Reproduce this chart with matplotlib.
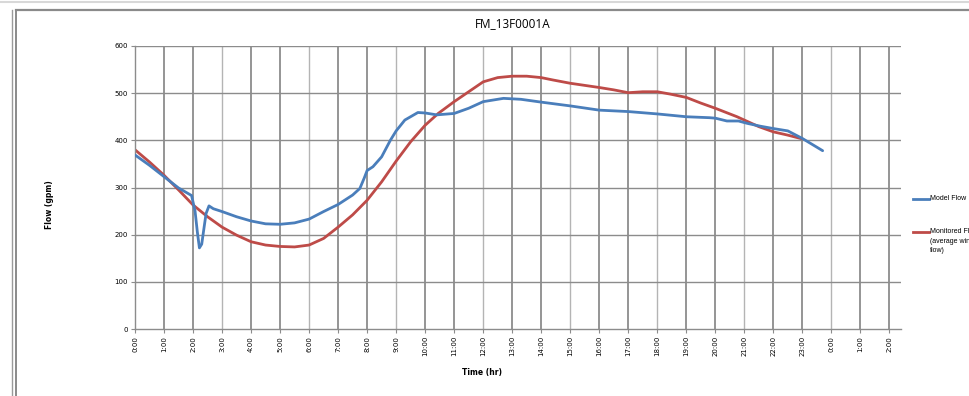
import matplotlib
matplotlib.use("Agg")
import matplotlib.pyplot as plt
from matplotlib.lines import Line2D

# Model flow (gpm) vs. time of day (hours)
model_hours = [0, 0.5, 1.0, 1.5, 1.95, 2.07, 2.15, 2.22, 2.3, 2.38, 2.45, 2.55, 2.7,
               3.0, 3.5, 4.0, 4.5, 5.0, 5.5, 6.0, 6.5, 7.0, 7.5, 7.75, 7.9, 8.0,
               8.2, 8.5, 8.8, 9.0, 9.3, 9.75, 10.0, 10.4, 11.0, 11.5, 12.0, 12.7,
               13.3, 14.0, 15.0, 16.0, 17.0, 18.0, 19.0, 19.8, 20.0, 20.4, 20.8,
               21.1, 21.55, 22.0, 22.5, 23.0, 23.7]
model_flow = [369, 347, 323, 299, 283, 250, 205, 172, 180, 215, 245, 261, 255,
              249, 238, 229, 223, 222, 225, 233, 249, 264, 284, 298, 320, 336,
              344, 365, 400, 420, 443, 459, 458, 454, 457, 468, 482, 489,
              487, 481, 473, 464, 461, 456, 450, 448, 447, 441, 441,
              436, 430, 425, 420, 404, 378]

# Monitored flow (gpm)
monitored_hours = [0, 0.5, 1, 1.5, 2, 2.5, 3, 3.5, 4, 4.5, 5, 5.5, 6, 6.5, 7, 7.5,
                   8, 8.5, 9, 9.5, 10, 10.45, 11, 11.5, 12, 12.5, 13, 13.5, 14,
                   14.4, 15, 16, 16.5, 17, 17.5, 18, 18.45, 19, 19.5, 20, 20.75,
                   21.5, 22, 22.5, 23]
monitored_flow = [380, 354, 326, 295, 263, 238, 216, 199, 185, 178, 175, 174, 178,
                  192, 216, 242, 273, 312, 356, 397, 432, 457, 482, 503, 524, 533,
                  536, 536, 533, 528, 521, 512, 507, 501, 503, 503, 498, 491, 479,
                  468, 450, 429, 418, 411, 403]

tick_hours = list(range(0, 27))
tick_labels = ["%d:00" % (h % 24) for h in tick_hours]
flow_ticks = [0, 100, 200, 300, 400, 500, 600]

blue = "#4A7EBB"
red = "#BE4B48"
grid_dark = "#8C8C8C"
grid_light = "#B4B4B4"

W, H = 970, 396
fig = plt.figure(figsize=(W / 100, H / 100), dpi=100)
fig.patch.set_facecolor("white")

# Chart frame
fig.add_artist(Line2D([0, 1], [1 - 1.5 / H, 1 - 1.5 / H], color="#D8D8D8", lw=1.5))
fig.add_artist(Line2D([12.5 / W, 12.5 / W], [0, 1 - 10 / H], color="#9A9A9A", lw=1.0))
fig.add_artist(Line2D([16.5 / W, 16.5 / W], [0, 1 - 10 / H], color="#8A8A8A", lw=1.4))
fig.add_artist(Line2D([16.5 / W, 1], [1 - 10 / H, 1 - 10 / H], color="#8A8A8A", lw=1.6))

ax = fig.add_axes([135 / W, 1 - 329 / H, (901 - 135) / W, (329 - 46) / H])
ax.set_xlim(0, 26.4)
ax.set_ylim(0, 600)

# Grid
for h in tick_hours[1:]:
    ax.axvline(h, color=grid_light if h % 3 == 0 else grid_dark,
               lw=1.3 if h % 3 else 1.0, zorder=1)
for v in flow_ticks[1:]:
    ax.axhline(v, color=grid_dark, lw=1.0, zorder=1)

ax.plot(model_hours, model_flow, color=blue, lw=2.0, zorder=3, solid_capstyle="round")
ax.plot(monitored_hours, monitored_flow, color=red, lw=2.0, zorder=2, solid_capstyle="round")

for s in ["top", "right"]:
    ax.spines[s].set_visible(False)
for s in ["left", "bottom"]:
    ax.spines[s].set_color(grid_dark)
    ax.spines[s].set_linewidth(1.0)

ax.set_xticks(tick_hours)
ax.set_xticklabels(tick_labels, rotation=90, fontsize=5, family="DejaVu Sans")
ax.set_yticks(flow_ticks)
ax.set_yticklabels([str(v) for v in flow_ticks], fontsize=5, family="DejaVu Sans")
ax.tick_params(axis="both", length=3, width=0.8, color=grid_dark, pad=2)

fig.text(513 / W, 1 - 24 / H, "FM_13F0001A", ha="center", va="center",
         fontsize=8.5, family="Open Sans")
fig.text(482 / W, 1 - 372 / H, "Time (hr)", ha="center", va="center",
         fontsize=5.5, fontweight="bold", family="DejaVu Sans")
fig.text(50 / W, 1 - 205 / H, "Flow (gpm)", ha="center", va="center", rotation=90,
         fontsize=5.5, fontweight="bold", family="DejaVu Sans")

# Legend
fig.add_artist(Line2D([913 / W, 929 / W], [1 - 199 / H, 1 - 199 / H], color=blue, lw=2.0))
fig.text(930 / W, 1 - 199 / H, "Model Flow", ha="left", va="center", fontsize=5,
         family="Liberation Sans")
fig.add_artist(Line2D([913 / W, 929 / W], [1 - 232 / H, 1 - 232 / H], color=red, lw=2.0))
fig.text(930 / W, 1 - 228 / H, "Monitored Flow\n(average winter dry weather\nflow)",
         ha="left", va="top", fontsize=5, family="Liberation Sans", linespacing=1.5)

fig.savefig("out.png", dpi=100, facecolor="white")
